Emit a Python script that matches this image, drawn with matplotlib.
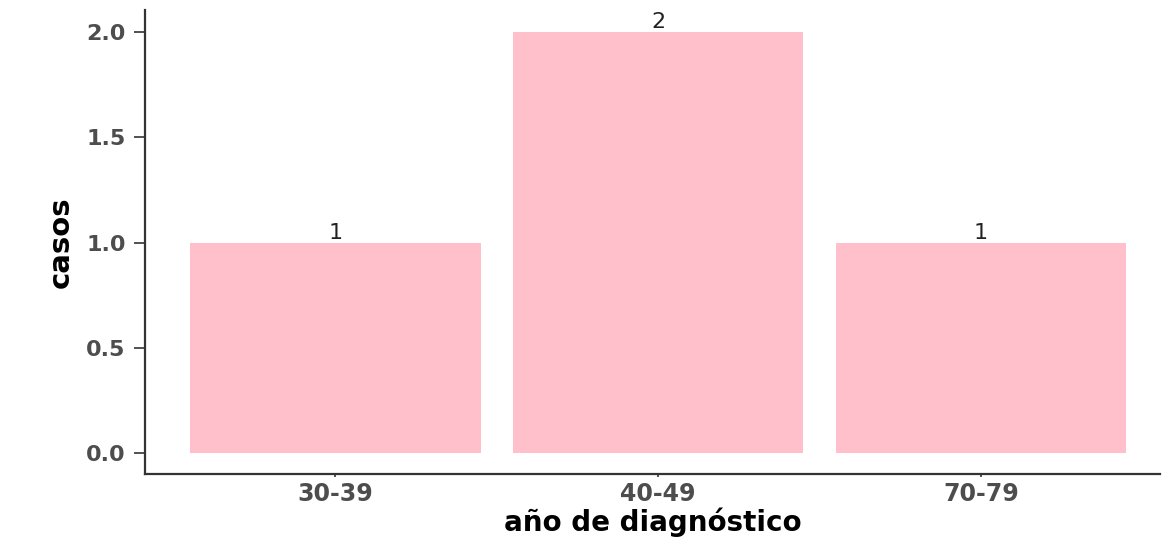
import matplotlib
matplotlib.use("Agg")
import matplotlib.pyplot as plt

categories = ["30-39", "40-49", "70-79"]
casos = [1, 2, 1]
yticks = [0.0, 0.5, 1.0, 1.5, 2.0]
ytick_labels = ["0.0", "0.5", "1.0", "1.5", "2.0"]

plt.rcParams['font.family'] = ['DejaVu Sans']

fig = plt.figure(figsize=(11.62, 5.39), dpi=100)
ax = fig.add_axes([145/1162, 1-474/539, (1160-145)/1162, (474-10)/539])

x = list(range(1, len(categories) + 1))
ax.bar(x, casos, width=0.9, color="#FFC0CB", edgecolor="none")
for xi, v in zip(x, casos):
    ax.annotate(str(v), (xi, v), xytext=(0, 0), textcoords="offset points",
                ha="center", va="bottom", fontsize=16, color="#222222")

ax.set_xlim(0.41, 3.555)
ax.set_ylim(-0.1, 2.105)
ax.set_xticks(x)
ax.set_xticklabels(categories, fontsize=17, fontweight="bold", color="#4D4D4D")
ax.set_yticks(yticks)
ax.set_yticklabels(ytick_labels, fontsize=16, fontweight="bold", color="#4D4D4D")

for s in ["top", "right"]:
    ax.spines[s].set_visible(False)
for s in ["left", "bottom"]:
    ax.spines[s].set_color("#333333")
    ax.spines[s].set_linewidth(1.6)

ax.tick_params(axis="y", length=8, width=1.2, color="#333333", pad=6)
ax.tick_params(axis="x", length=2, width=1.2, color="#333333", pad=4)

ax.set_xlabel("año de diagnóstico", fontsize=20, fontweight="bold", color="black", labelpad=1)
ax.set_ylabel("casos", fontsize=21, fontweight="bold", color="black", labelpad=8)

fig.savefig("out.png", dpi=100)
